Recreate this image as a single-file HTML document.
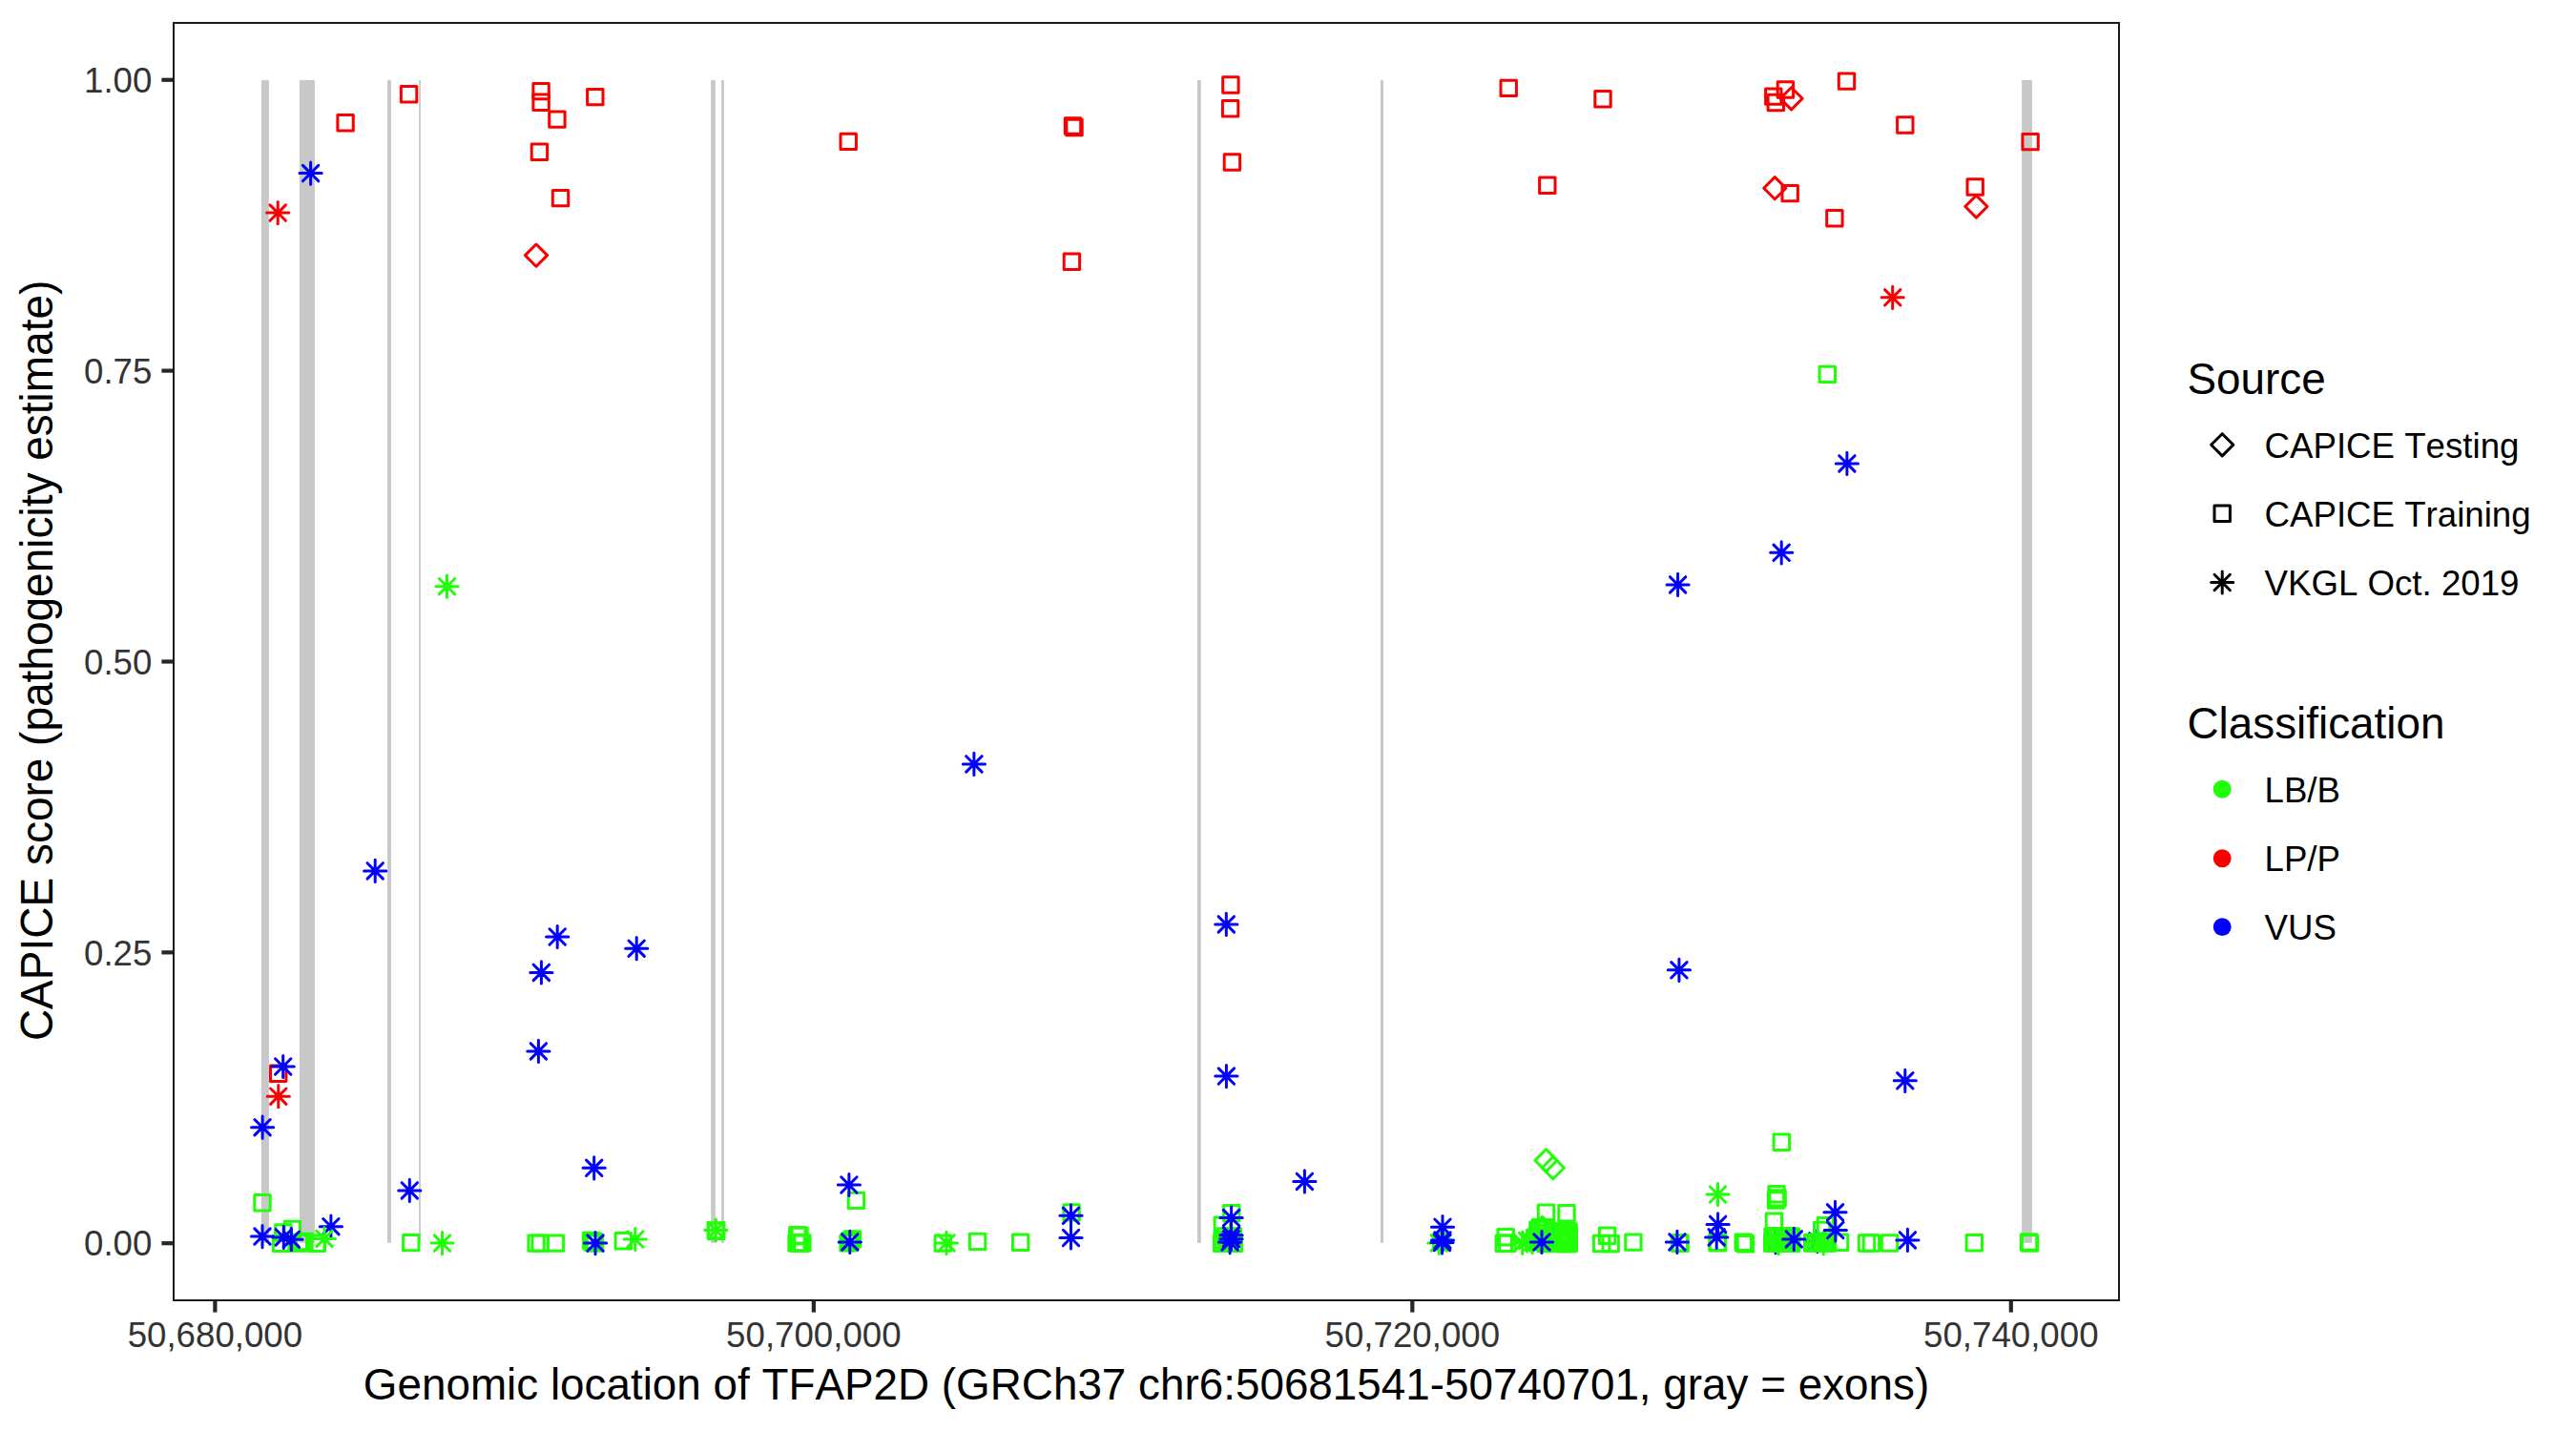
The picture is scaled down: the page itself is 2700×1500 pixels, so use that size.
<!DOCTYPE html>
<html><head><meta charset="utf-8"><title>CAPICE score plot</title>
<style>
html,body{margin:0;padding:0;background:#fff;}
svg{display:block;}
text{font-family:"Liberation Sans", Arial, Helvetica, sans-serif;font-kerning:none;font-feature-settings:"kern" 0;}
</style></head><body>
<svg width="2700" height="1500" viewBox="0 0 2700 1500">
<rect x="0" y="0" width="2700" height="1500" fill="#FFFFFF"/>
<g fill="#C8C8C8">
<rect x="274" y="83.9" width="7.9" height="1218.9"/>
<rect x="314" y="83.9" width="15.9" height="1218.9"/>
<rect x="406" y="83.9" width="3.9" height="1218.9"/>
<rect x="439.1" y="83.9" width="1.8" height="1218.9"/>
<rect x="745.2" y="83.9" width="4.6" height="1218.9"/>
<rect x="756.1" y="83.9" width="2.8" height="1218.9"/>
<rect x="1255" y="83.9" width="3.8" height="1218.9"/>
<rect x="1447" y="83.9" width="3" height="1218.9"/>
<rect x="2119.1" y="83.9" width="10.8" height="1218.9"/>
</g>
<g fill="none" stroke-width="3" stroke-linecap="round" stroke-linejoin="round">
<path d="M338.7 1277.5L355.1 1293.9M338.7 1293.9L355.1 1277.5M335.3 1285.7L358.5 1285.7M346.9 1274.1L346.9 1297.3" stroke="#0000FF"/>
<path d="M1852.8 1294L1869.2 1310.4M1852.8 1310.4L1869.2 1294M1849.4 1302.2L1872.6 1302.2M1861 1290.6L1861 1313.8" stroke="#0000FF"/>
<path d="M1896.6 1292.7L1913 1309.1M1896.6 1309.1L1913 1292.7M1893.2 1300.9L1916.4 1300.9M1904.8 1289.3L1904.8 1312.5" stroke="#0000FF"/>
<rect x="1907.1" y="384.2" width="16.4" height="16.4" stroke="#21FF08"/>
<rect x="1859.1" y="1189" width="16.4" height="16.4" stroke="#21FF08"/>
<rect x="266.8" y="1252.6" width="16.4" height="16.4" stroke="#21FF08"/>
<rect x="288.6" y="1283.8" width="16.4" height="16.4" stroke="#21FF08"/>
<rect x="298.1" y="1280.2" width="16.4" height="16.4" stroke="#21FF08"/>
<rect x="286.4" y="1295.1" width="16.4" height="16.4" stroke="#21FF08"/>
<rect x="305.1" y="1294.8" width="16.4" height="16.4" stroke="#21FF08"/>
<rect x="324.1" y="1295" width="16.4" height="16.4" stroke="#21FF08"/>
<rect x="422.6" y="1294.4" width="16.4" height="16.4" stroke="#21FF08"/>
<rect x="553.9" y="1294.9" width="16.4" height="16.4" stroke="#21FF08"/>
<rect x="557.9" y="1294.9" width="16.4" height="16.4" stroke="#21FF08"/>
<rect x="574.2" y="1294.9" width="16.4" height="16.4" stroke="#21FF08"/>
<rect x="611.3" y="1292.2" width="16.4" height="16.4" stroke="#21FF08"/>
<rect x="615.3" y="1294.9" width="16.4" height="16.4" stroke="#21FF08"/>
<rect x="645.1" y="1292.6" width="16.4" height="16.4" stroke="#21FF08"/>
<rect x="742.1" y="1281.7" width="16.4" height="16.4" stroke="#21FF08"/>
<rect x="742.6" y="1282.3" width="16.4" height="16.4" stroke="#21FF08"/>
<rect x="827.6" y="1286.5" width="16.4" height="16.4" stroke="#21FF08"/>
<rect x="826.8" y="1294.7" width="16.4" height="16.4" stroke="#21FF08"/>
<rect x="832.7" y="1294.7" width="16.4" height="16.4" stroke="#21FF08"/>
<rect x="889.2" y="1250.2" width="16.4" height="16.4" stroke="#21FF08"/>
<rect x="880.8" y="1294.7" width="16.4" height="16.4" stroke="#21FF08"/>
<rect x="885.2" y="1290.8" width="16.4" height="16.4" stroke="#21FF08"/>
<rect x="883" y="1292.5" width="16.4" height="16.4" stroke="#21FF08"/>
<rect x="980.1" y="1294.9" width="16.4" height="16.4" stroke="#21FF08"/>
<rect x="1016.4" y="1293.2" width="16.4" height="16.4" stroke="#21FF08"/>
<rect x="1061.4" y="1294.1" width="16.4" height="16.4" stroke="#21FF08"/>
<rect x="1114.9" y="1262.7" width="16.4" height="16.4" stroke="#21FF08"/>
<rect x="1282.6" y="1263.4" width="16.4" height="16.4" stroke="#21FF08"/>
<rect x="1273.1" y="1276" width="16.4" height="16.4" stroke="#21FF08"/>
<rect x="1272.5" y="1295" width="16.4" height="16.4" stroke="#21FF08"/>
<rect x="1285.1" y="1295" width="16.4" height="16.4" stroke="#21FF08"/>
<rect x="1284.2" y="1287.7" width="16.4" height="16.4" stroke="#21FF08"/>
<rect x="1273.1" y="1291.6" width="16.4" height="16.4" stroke="#21FF08"/>
<rect x="1502.5" y="1293.3" width="16.4" height="16.4" stroke="#21FF08"/>
<rect x="1570" y="1288.5" width="16.4" height="16.4" stroke="#21FF08"/>
<rect x="1568.1" y="1295.1" width="16.4" height="16.4" stroke="#21FF08"/>
<rect x="1571.6" y="1295.1" width="16.4" height="16.4" stroke="#21FF08"/>
<rect x="1612.3" y="1263" width="16.4" height="16.4" stroke="#21FF08"/>
<rect x="1633.8" y="1263.5" width="16.4" height="16.4" stroke="#21FF08"/>
<rect x="1606.3" y="1278.4" width="16.4" height="16.4" stroke="#21FF08"/>
<rect x="1610.1" y="1278.4" width="16.4" height="16.4" stroke="#21FF08"/>
<rect x="1601.8" y="1289.8" width="16.4" height="16.4" stroke="#21FF08"/>
<rect x="1611.8" y="1295.3" width="16.4" height="16.4" stroke="#21FF08"/>
<rect x="1630.5" y="1286.5" width="16.4" height="16.4" stroke="#21FF08"/>
<rect x="1636.1" y="1290.8" width="16.4" height="16.4" stroke="#21FF08"/>
<rect x="1631.8" y="1295.3" width="16.4" height="16.4" stroke="#21FF08"/>
<rect x="1635.8" y="1295.3" width="16.4" height="16.4" stroke="#21FF08"/>
<rect x="1670.4" y="1295.3" width="16.4" height="16.4" stroke="#21FF08"/>
<rect x="1680" y="1295.3" width="16.4" height="16.4" stroke="#21FF08"/>
<rect x="1676.4" y="1287" width="16.4" height="16.4" stroke="#21FF08"/>
<rect x="1703.7" y="1293.9" width="16.4" height="16.4" stroke="#21FF08"/>
<rect x="1752.2" y="1294.7" width="16.4" height="16.4" stroke="#21FF08"/>
<rect x="1752.8" y="1295.1" width="16.4" height="16.4" stroke="#21FF08"/>
<rect x="1791.8" y="1294.1" width="16.4" height="16.4" stroke="#21FF08"/>
<rect x="1792.3" y="1294.6" width="16.4" height="16.4" stroke="#21FF08"/>
<rect x="1819" y="1294.1" width="16.4" height="16.4" stroke="#21FF08"/>
<rect x="1821.2" y="1295.5" width="16.4" height="16.4" stroke="#21FF08"/>
<rect x="1853.8" y="1243.5" width="16.4" height="16.4" stroke="#21FF08"/>
<rect x="1854.9" y="1247.7" width="16.4" height="16.4" stroke="#21FF08"/>
<rect x="1853.3" y="1249.8" width="16.4" height="16.4" stroke="#21FF08"/>
<rect x="1851.2" y="1272.1" width="16.4" height="16.4" stroke="#21FF08"/>
<rect x="1849.6" y="1294.9" width="16.4" height="16.4" stroke="#21FF08"/>
<rect x="1859" y="1294.9" width="16.4" height="16.4" stroke="#21FF08"/>
<rect x="1869.5" y="1294.9" width="16.4" height="16.4" stroke="#21FF08"/>
<rect x="1852.8" y="1287.8" width="16.4" height="16.4" stroke="#21FF08"/>
<rect x="1905.2" y="1276.6" width="16.4" height="16.4" stroke="#21FF08"/>
<rect x="1901.5" y="1281.3" width="16.4" height="16.4" stroke="#21FF08"/>
<rect x="1891.5" y="1294.9" width="16.4" height="16.4" stroke="#21FF08"/>
<rect x="1907.3" y="1294.9" width="16.4" height="16.4" stroke="#21FF08"/>
<rect x="1920.3" y="1294.1" width="16.4" height="16.4" stroke="#21FF08"/>
<rect x="1948.3" y="1294.8" width="16.4" height="16.4" stroke="#21FF08"/>
<rect x="1953.2" y="1294.8" width="16.4" height="16.4" stroke="#21FF08"/>
<rect x="1972.3" y="1294.8" width="16.4" height="16.4" stroke="#21FF08"/>
<rect x="2061.1" y="1294.5" width="16.4" height="16.4" stroke="#21FF08"/>
<rect x="2118.3" y="1293.8" width="16.4" height="16.4" stroke="#21FF08"/>
<rect x="2119.3" y="1294.8" width="16.4" height="16.4" stroke="#21FF08"/>
<rect x="1627.8" y="1282.8" width="16.4" height="16.4" stroke="#21FF08"/>
<rect x="1627.8" y="1285.8" width="16.4" height="16.4" stroke="#21FF08"/>
<rect x="1627.8" y="1288.8" width="16.4" height="16.4" stroke="#21FF08"/>
<rect x="1627.8" y="1291.8" width="16.4" height="16.4" stroke="#21FF08"/>
<rect x="1627.8" y="1294.8" width="16.4" height="16.4" stroke="#21FF08"/>
<rect x="1629.8" y="1282.8" width="16.4" height="16.4" stroke="#21FF08"/>
<rect x="1629.8" y="1285.8" width="16.4" height="16.4" stroke="#21FF08"/>
<rect x="1629.8" y="1288.8" width="16.4" height="16.4" stroke="#21FF08"/>
<rect x="1629.8" y="1291.8" width="16.4" height="16.4" stroke="#21FF08"/>
<rect x="1629.8" y="1294.8" width="16.4" height="16.4" stroke="#21FF08"/>
<rect x="1631.8" y="1282.8" width="16.4" height="16.4" stroke="#21FF08"/>
<rect x="1631.8" y="1285.8" width="16.4" height="16.4" stroke="#21FF08"/>
<rect x="1631.8" y="1288.8" width="16.4" height="16.4" stroke="#21FF08"/>
<rect x="1631.8" y="1291.8" width="16.4" height="16.4" stroke="#21FF08"/>
<rect x="1631.8" y="1294.8" width="16.4" height="16.4" stroke="#21FF08"/>
<rect x="1633.8" y="1282.8" width="16.4" height="16.4" stroke="#21FF08"/>
<rect x="1633.8" y="1285.8" width="16.4" height="16.4" stroke="#21FF08"/>
<rect x="1633.8" y="1288.8" width="16.4" height="16.4" stroke="#21FF08"/>
<rect x="1633.8" y="1291.8" width="16.4" height="16.4" stroke="#21FF08"/>
<rect x="1633.8" y="1294.8" width="16.4" height="16.4" stroke="#21FF08"/>
<rect x="1635.8" y="1282.8" width="16.4" height="16.4" stroke="#21FF08"/>
<rect x="1635.8" y="1285.8" width="16.4" height="16.4" stroke="#21FF08"/>
<rect x="1635.8" y="1288.8" width="16.4" height="16.4" stroke="#21FF08"/>
<rect x="1635.8" y="1291.8" width="16.4" height="16.4" stroke="#21FF08"/>
<rect x="1635.8" y="1294.8" width="16.4" height="16.4" stroke="#21FF08"/>
<rect x="1603.8" y="1280.8" width="16.4" height="16.4" stroke="#21FF08"/>
<rect x="1603.8" y="1284.8" width="16.4" height="16.4" stroke="#21FF08"/>
<rect x="1603.8" y="1288.8" width="16.4" height="16.4" stroke="#21FF08"/>
<rect x="1603.8" y="1292.8" width="16.4" height="16.4" stroke="#21FF08"/>
<rect x="1606.8" y="1280.8" width="16.4" height="16.4" stroke="#21FF08"/>
<rect x="1606.8" y="1284.8" width="16.4" height="16.4" stroke="#21FF08"/>
<rect x="1606.8" y="1288.8" width="16.4" height="16.4" stroke="#21FF08"/>
<rect x="1606.8" y="1292.8" width="16.4" height="16.4" stroke="#21FF08"/>
<rect x="1609.8" y="1280.8" width="16.4" height="16.4" stroke="#21FF08"/>
<rect x="1609.8" y="1284.8" width="16.4" height="16.4" stroke="#21FF08"/>
<rect x="1609.8" y="1288.8" width="16.4" height="16.4" stroke="#21FF08"/>
<rect x="1609.8" y="1292.8" width="16.4" height="16.4" stroke="#21FF08"/>
<rect x="1612.8" y="1280.8" width="16.4" height="16.4" stroke="#21FF08"/>
<rect x="1612.8" y="1284.8" width="16.4" height="16.4" stroke="#21FF08"/>
<rect x="1612.8" y="1288.8" width="16.4" height="16.4" stroke="#21FF08"/>
<rect x="1612.8" y="1292.8" width="16.4" height="16.4" stroke="#21FF08"/>
<rect x="1849.8" y="1287.9" width="16.4" height="16.4" stroke="#21FF08"/>
<rect x="1849.8" y="1294.8" width="16.4" height="16.4" stroke="#21FF08"/>
<rect x="1852.8" y="1287.9" width="16.4" height="16.4" stroke="#21FF08"/>
<rect x="1852.8" y="1294.8" width="16.4" height="16.4" stroke="#21FF08"/>
<rect x="1855.8" y="1287.9" width="16.4" height="16.4" stroke="#21FF08"/>
<rect x="1855.8" y="1294.8" width="16.4" height="16.4" stroke="#21FF08"/>
<rect x="1858.8" y="1287.9" width="16.4" height="16.4" stroke="#21FF08"/>
<rect x="1858.8" y="1294.8" width="16.4" height="16.4" stroke="#21FF08"/>
<rect x="1861.8" y="1287.9" width="16.4" height="16.4" stroke="#21FF08"/>
<rect x="1861.8" y="1294.8" width="16.4" height="16.4" stroke="#21FF08"/>
<rect x="1864.8" y="1287.9" width="16.4" height="16.4" stroke="#21FF08"/>
<rect x="1864.8" y="1294.8" width="16.4" height="16.4" stroke="#21FF08"/>
<rect x="1867.8" y="1287.9" width="16.4" height="16.4" stroke="#21FF08"/>
<rect x="1867.8" y="1294.8" width="16.4" height="16.4" stroke="#21FF08"/>
<rect x="1869.1" y="1287.9" width="16.4" height="16.4" stroke="#21FF08"/>
<rect x="1869.1" y="1294.8" width="16.4" height="16.4" stroke="#21FF08"/>
<rect x="1891.8" y="1294.3" width="16.4" height="16.4" stroke="#21FF08"/>
<rect x="1894.8" y="1294.3" width="16.4" height="16.4" stroke="#21FF08"/>
<rect x="1897.8" y="1294.3" width="16.4" height="16.4" stroke="#21FF08"/>
<rect x="1900.8" y="1294.3" width="16.4" height="16.4" stroke="#21FF08"/>
<rect x="1903.8" y="1294.3" width="16.4" height="16.4" stroke="#21FF08"/>
<rect x="1905.8" y="1294.3" width="16.4" height="16.4" stroke="#21FF08"/>
<rect x="828.8" y="1294.8" width="16.4" height="16.4" stroke="#21FF08"/>
<rect x="830.8" y="1294.8" width="16.4" height="16.4" stroke="#21FF08"/>
<rect x="829.8" y="1287.3" width="16.4" height="16.4" stroke="#21FF08"/>
<rect x="1275.8" y="1287.8" width="16.4" height="16.4" stroke="#21FF08"/>
<rect x="1278.3" y="1294.8" width="16.4" height="16.4" stroke="#21FF08"/>
<rect x="1280.8" y="1294.8" width="16.4" height="16.4" stroke="#21FF08"/>
<rect x="612.8" y="1293.8" width="16.4" height="16.4" stroke="#21FF08"/>
<rect x="614" y="1293.2" width="16.4" height="16.4" stroke="#21FF08"/>
<rect x="307.8" y="1294.3" width="16.4" height="16.4" stroke="#21FF08"/>
<rect x="310.8" y="1293.3" width="16.4" height="16.4" stroke="#21FF08"/>
<path d="M1620.5 1204.8L1632.1 1216.4L1620.5 1228L1608.9 1216.4Z" stroke="#21FF08"/>
<path d="M1627.8 1212.6L1639.4 1224.2L1627.8 1235.8L1616.2 1224.2Z" stroke="#21FF08"/>
<path d="M1616.5 1275.3L1628.1 1286.9L1616.5 1298.5L1604.9 1286.9Z" stroke="#21FF08"/>
<path d="M460.3 606.5L476.7 622.9M460.3 622.9L476.7 606.5M456.9 614.7L480.1 614.7M468.5 603.1L468.5 626.3" stroke="#21FF08"/>
<path d="M1792.3 1243.8L1808.7 1260.2M1792.3 1260.2L1808.7 1243.8M1788.9 1252L1812.1 1252M1800.5 1240.4L1800.5 1263.6" stroke="#21FF08"/>
<path d="M331.8 1290.2L348.2 1306.6M331.8 1306.6L348.2 1290.2M328.4 1298.4L351.6 1298.4M340 1286.8L340 1310" stroke="#21FF08"/>
<path d="M455.3 1294.9L471.7 1311.3M455.3 1311.3L471.7 1294.9M451.9 1303.1L475.1 1303.1M463.5 1291.5L463.5 1314.7" stroke="#21FF08"/>
<path d="M657.6 1290.8L674 1307.2M657.6 1307.2L674 1290.8M654.2 1299L677.4 1299M665.8 1287.4L665.8 1310.6" stroke="#21FF08"/>
<path d="M742.1 1281.3L758.5 1297.7M742.1 1297.7L758.5 1281.3M738.7 1289.5L761.9 1289.5M750.3 1277.9L750.3 1301.1" stroke="#21FF08"/>
<path d="M983.8 1294.7L1000.2 1311.1M983.8 1311.1L1000.2 1294.7M980.4 1302.9L1003.6 1302.9M992 1291.3L992 1314.5" stroke="#21FF08"/>
<path d="M1500.1 1294.7L1516.5 1311.1M1500.1 1311.1L1516.5 1294.7M1496.7 1302.9L1519.9 1302.9M1508.3 1291.3L1508.3 1314.5" stroke="#21FF08"/>
<path d="M1587.5 1294.7L1603.9 1311.1M1587.5 1311.1L1603.9 1294.7M1584.1 1302.9L1607.3 1302.9M1595.7 1291.3L1595.7 1314.5" stroke="#21FF08"/>
<path d="M1592.4 1292.3L1608.8 1308.7M1592.4 1308.7L1608.8 1292.3M1589 1300.5L1612.2 1300.5M1600.6 1288.9L1600.6 1312.1" stroke="#21FF08"/>
<path d="M1597.9 1293.9L1614.3 1310.3M1597.9 1310.3L1614.3 1293.9M1594.5 1302.1L1617.7 1302.1M1606.1 1290.5L1606.1 1313.7" stroke="#21FF08"/>
<path d="M1855.9 1294.9L1872.3 1311.3M1855.9 1311.3L1872.3 1294.9M1852.5 1303.1L1875.7 1303.1M1864.1 1291.5L1864.1 1314.7" stroke="#21FF08"/>
<path d="M1903.1 1294.9L1919.5 1311.3M1903.1 1311.3L1919.5 1294.9M1899.7 1303.1L1922.9 1303.1M1911.3 1291.5L1911.3 1314.7" stroke="#21FF08"/>
<rect x="353.9" y="120.6" width="16.4" height="16.4" stroke="#F80000"/>
<rect x="420.4" y="90.6" width="16.4" height="16.4" stroke="#F80000"/>
<rect x="558.9" y="87.4" width="16.4" height="16.4" stroke="#F80000"/>
<rect x="558.9" y="99.1" width="16.4" height="16.4" stroke="#F80000"/>
<rect x="615.6" y="93.4" width="16.4" height="16.4" stroke="#F80000"/>
<rect x="575.7" y="116.9" width="16.4" height="16.4" stroke="#F80000"/>
<rect x="557.2" y="151.1" width="16.4" height="16.4" stroke="#F80000"/>
<rect x="579.3" y="199.4" width="16.4" height="16.4" stroke="#F80000"/>
<rect x="881" y="140.2" width="16.4" height="16.4" stroke="#F80000"/>
<rect x="1116.3" y="123.8" width="16.4" height="16.4" stroke="#F80000"/>
<rect x="1117.8" y="125.3" width="16.4" height="16.4" stroke="#F80000"/>
<rect x="1115.2" y="266.1" width="16.4" height="16.4" stroke="#F80000"/>
<rect x="1281.7" y="80.8" width="16.4" height="16.4" stroke="#F80000"/>
<rect x="1281.4" y="105.6" width="16.4" height="16.4" stroke="#F80000"/>
<rect x="1283.2" y="161.8" width="16.4" height="16.4" stroke="#F80000"/>
<rect x="1573" y="84.2" width="16.4" height="16.4" stroke="#F80000"/>
<rect x="1671.8" y="95.6" width="16.4" height="16.4" stroke="#F80000"/>
<rect x="1613.6" y="186" width="16.4" height="16.4" stroke="#F80000"/>
<rect x="1850.6" y="92.9" width="16.4" height="16.4" stroke="#F80000"/>
<rect x="1853.1" y="99.3" width="16.4" height="16.4" stroke="#F80000"/>
<rect x="1863.2" y="85.8" width="16.4" height="16.4" stroke="#F80000"/>
<rect x="1927.3" y="76.9" width="16.4" height="16.4" stroke="#F80000"/>
<rect x="1988.6" y="122.8" width="16.4" height="16.4" stroke="#F80000"/>
<rect x="2119.9" y="140.4" width="16.4" height="16.4" stroke="#F80000"/>
<rect x="2062" y="187.8" width="16.4" height="16.4" stroke="#F80000"/>
<rect x="1914.7" y="220.5" width="16.4" height="16.4" stroke="#F80000"/>
<rect x="1868" y="194.4" width="16.4" height="16.4" stroke="#F80000"/>
<rect x="283.5" y="1117" width="16.4" height="16.4" stroke="#F80000"/>
<path d="M562 256L573.6 267.6L562 279.2L550.4 267.6Z" stroke="#F80000"/>
<path d="M1877.6 91.7L1889.2 103.3L1877.6 114.9L1866 103.3Z" stroke="#F80000"/>
<path d="M2071.4 204.9L2083 216.5L2071.4 228.1L2059.8 216.5Z" stroke="#F80000"/>
<path d="M1860.3 185.6L1871.9 197.2L1860.3 208.8L1848.7 197.2Z" stroke="#F80000"/>
<path d="M283 214.9L299.4 231.3M283 231.3L299.4 214.9M279.6 223.1L302.8 223.1M291.2 211.5L291.2 234.7" stroke="#F80000"/>
<path d="M1975.5 303.6L1991.9 320M1975.5 320L1991.9 303.6M1972.1 311.8L1995.3 311.8M1983.7 300.2L1983.7 323.4" stroke="#F80000"/>
<path d="M283.6 1141L300 1157.4M283.6 1157.4L300 1141M280.2 1149.2L303.4 1149.2M291.8 1137.6L291.8 1160.8" stroke="#F80000"/>
<path d="M317.4 173.4L333.8 189.8M317.4 189.8L333.8 173.4M314 181.6L337.2 181.6M325.6 170L325.6 193.2" stroke="#0000FF"/>
<path d="M385 904.7L401.4 921.1M385 921.1L401.4 904.7M381.6 912.9L404.8 912.9M393.2 901.3L393.2 924.5" stroke="#0000FF"/>
<path d="M576 973.8L592.4 990.2M576 990.2L592.4 973.8M572.6 982L595.8 982M584.2 970.4L584.2 993.6" stroke="#0000FF"/>
<path d="M659 986L675.4 1002.4M659 1002.4L675.4 986M655.6 994.2L678.8 994.2M667.2 982.6L667.2 1005.8" stroke="#0000FF"/>
<path d="M559.2 1011.2L575.6 1027.6M559.2 1027.6L575.6 1011.2M555.8 1019.4L579 1019.4M567.4 1007.8L567.4 1031" stroke="#0000FF"/>
<path d="M556.2 1093.7L572.6 1110.1M556.2 1110.1L572.6 1093.7M552.8 1101.9L576 1101.9M564.4 1090.3L564.4 1113.5" stroke="#0000FF"/>
<path d="M288.5 1109.8L304.9 1126.2M288.5 1126.2L304.9 1109.8M285.1 1118L308.3 1118M296.7 1106.4L296.7 1129.6" stroke="#0000FF"/>
<path d="M266.9 1173.5L283.3 1189.9M266.9 1189.9L283.3 1173.5M263.5 1181.7L286.7 1181.7M275.1 1170.1L275.1 1193.3" stroke="#0000FF"/>
<path d="M1012.7 792.7L1029.1 809.1M1012.7 809.1L1029.1 792.7M1009.3 800.9L1032.5 800.9M1020.9 789.3L1020.9 812.5" stroke="#0000FF"/>
<path d="M1277.1 960.7L1293.5 977.1M1277.1 977.1L1293.5 960.7M1273.7 968.9L1296.9 968.9M1285.3 957.3L1285.3 980.5" stroke="#0000FF"/>
<path d="M1927.7 477.7L1944.1 494.1M1927.7 494.1L1944.1 477.7M1924.3 485.9L1947.5 485.9M1935.9 474.3L1935.9 497.5" stroke="#0000FF"/>
<path d="M1859 571.1L1875.4 587.5M1859 587.5L1875.4 571.1M1855.6 579.3L1878.8 579.3M1867.2 567.7L1867.2 590.9" stroke="#0000FF"/>
<path d="M1750.4 604.7L1766.8 621.1M1750.4 621.1L1766.8 604.7M1747 612.9L1770.2 612.9M1758.6 601.3L1758.6 624.5" stroke="#0000FF"/>
<path d="M1751.7 1008.6L1768.1 1025M1751.7 1025L1768.1 1008.6M1748.3 1016.8L1771.5 1016.8M1759.9 1005.2L1759.9 1028.4" stroke="#0000FF"/>
<path d="M1988.6 1124.6L2005 1141M1988.6 1141L2005 1124.6M1985.2 1132.8L2008.4 1132.8M1996.8 1121.2L1996.8 1144.4" stroke="#0000FF"/>
<path d="M1277.2 1119.9L1293.6 1136.3M1277.2 1136.3L1293.6 1119.9M1273.8 1128.1L1297 1128.1M1285.4 1116.5L1285.4 1139.7" stroke="#0000FF"/>
<path d="M1359.2 1230.2L1375.6 1246.6M1359.2 1246.6L1375.6 1230.2M1355.8 1238.4L1379 1238.4M1367.4 1226.8L1367.4 1250" stroke="#0000FF"/>
<path d="M266.8 1287.9L283.2 1304.3M266.8 1304.3L283.2 1287.9M263.4 1296.1L286.6 1296.1M275 1284.5L275 1307.7" stroke="#0000FF"/>
<path d="M289.1 1288.7L305.5 1305.1M289.1 1305.1L305.5 1288.7M285.7 1296.9L308.9 1296.9M297.3 1285.3L297.3 1308.5" stroke="#0000FF"/>
<path d="M297.2 1291L313.6 1307.4M297.2 1307.4L313.6 1291M293.8 1299.2L317 1299.2M305.4 1287.6L305.4 1310.8" stroke="#0000FF"/>
<path d="M421.1 1239.7L437.5 1256.1M421.1 1256.1L437.5 1239.7M417.7 1247.9L440.9 1247.9M429.3 1236.3L429.3 1259.5" stroke="#0000FF"/>
<path d="M614.5 1216.1L630.9 1232.5M614.5 1232.5L630.9 1216.1M611.1 1224.3L634.3 1224.3M622.7 1212.7L622.7 1235.9" stroke="#0000FF"/>
<path d="M615.8 1294.9L632.2 1311.3M615.8 1311.3L632.2 1294.9M612.4 1303.1L635.6 1303.1M624 1291.5L624 1314.7" stroke="#0000FF"/>
<path d="M881.7 1233.8L898.1 1250.2M881.7 1250.2L898.1 1233.8M878.3 1242L901.5 1242M889.9 1230.4L889.9 1253.6" stroke="#0000FF"/>
<path d="M882.6 1293.7L899 1310.1M882.6 1310.1L899 1293.7M879.2 1301.9L902.4 1301.9M890.8 1290.3L890.8 1313.5" stroke="#0000FF"/>
<path d="M1114.3 1266.1L1130.7 1282.5M1114.3 1282.5L1130.7 1266.1M1110.9 1274.3L1134.1 1274.3M1122.5 1262.7L1122.5 1285.9" stroke="#0000FF"/>
<path d="M1114.3 1289.3L1130.7 1305.7M1114.3 1305.7L1130.7 1289.3M1110.9 1297.5L1134.1 1297.5M1122.5 1285.9L1122.5 1309.1" stroke="#0000FF"/>
<path d="M1282.4 1268.4L1298.8 1284.8M1282.4 1284.8L1298.8 1268.4M1279 1276.6L1302.2 1276.6M1290.6 1265L1290.6 1288.2" stroke="#0000FF"/>
<path d="M1282.3 1286.6L1298.7 1303M1282.3 1303L1298.7 1286.6M1278.9 1294.8L1302.1 1294.8M1290.5 1283.2L1290.5 1306.4" stroke="#0000FF"/>
<path d="M1282.3 1290.5L1298.7 1306.9M1282.3 1306.9L1298.7 1290.5M1278.9 1298.7L1302.1 1298.7M1290.5 1287.1L1290.5 1310.3" stroke="#0000FF"/>
<path d="M1280.9 1293.9L1297.3 1310.3M1280.9 1310.3L1297.3 1293.9M1277.5 1302.1L1300.7 1302.1M1289.1 1290.5L1289.1 1313.7" stroke="#0000FF"/>
<path d="M1503.8 1278L1520.2 1294.4M1503.8 1294.4L1520.2 1278M1500.4 1286.2L1523.6 1286.2M1512 1274.6L1512 1297.8" stroke="#0000FF"/>
<path d="M1503.8 1291.8L1520.2 1308.2M1503.8 1308.2L1520.2 1291.8M1500.4 1300L1523.6 1300M1512 1288.4L1512 1311.6" stroke="#0000FF"/>
<path d="M1503.3 1294.3L1519.7 1310.7M1503.3 1310.7L1519.7 1294.3M1499.9 1302.5L1523.1 1302.5M1511.5 1290.9L1511.5 1314.1" stroke="#0000FF"/>
<path d="M1607.8 1293.8L1624.2 1310.2M1607.8 1310.2L1624.2 1293.8M1604.4 1302L1627.6 1302M1616 1290.4L1616 1313.6" stroke="#0000FF"/>
<path d="M1749.7 1293.7L1766.1 1310.1M1749.7 1310.1L1766.1 1293.7M1746.3 1301.9L1769.5 1301.9M1757.9 1290.3L1757.9 1313.5" stroke="#0000FF"/>
<path d="M1792.4 1275.2L1808.8 1291.6M1792.4 1291.6L1808.8 1275.2M1789 1283.4L1812.2 1283.4M1800.6 1271.8L1800.6 1295" stroke="#0000FF"/>
<path d="M1791 1288.7L1807.4 1305.1M1791 1305.1L1807.4 1288.7M1787.6 1296.9L1810.8 1296.9M1799.2 1285.3L1799.2 1308.5" stroke="#0000FF"/>
<path d="M1872.1 1290.7L1888.5 1307.1M1872.1 1307.1L1888.5 1290.7M1868.7 1298.9L1891.9 1298.9M1880.3 1287.3L1880.3 1310.5" stroke="#0000FF"/>
<path d="M1915.3 1262.6L1931.7 1279M1915.3 1279L1931.7 1262.6M1911.9 1270.8L1935.1 1270.8M1923.5 1259.2L1923.5 1282.4" stroke="#0000FF"/>
<path d="M1915.6 1281.3L1932 1297.7M1915.6 1297.7L1932 1281.3M1912.2 1289.5L1935.4 1289.5M1923.8 1277.9L1923.8 1301.1" stroke="#0000FF"/>
<path d="M1991.2 1291.7L2007.6 1308.1M1991.2 1308.1L2007.6 1291.7M1987.8 1299.9L2011 1299.9M1999.4 1288.3L1999.4 1311.5" stroke="#0000FF"/>
</g>
<rect x="182" y="24" width="2039" height="1339" fill="none" stroke="#1A1A1A" stroke-width="2"/>
<g stroke="#262626" stroke-width="4.2">
<line x1="169.4" y1="1303.2" x2="181" y2="1303.2"/>
<line x1="169.4" y1="998.34" x2="181" y2="998.34"/>
<line x1="169.4" y1="693.48" x2="181" y2="693.48"/>
<line x1="169.4" y1="388.61" x2="181" y2="388.61"/>
<line x1="169.4" y1="83.75" x2="181" y2="83.75"/>
<line x1="225.4" y1="1364" x2="225.4" y2="1375.6"/>
<line x1="852.87" y1="1364" x2="852.87" y2="1375.6"/>
<line x1="1480.33" y1="1364" x2="1480.33" y2="1375.6"/>
<line x1="2107.8" y1="1364" x2="2107.8" y2="1375.6"/>
</g>
<text transform="translate(159.4 1316.4) scale(1 1.025)" font-size="36.67px" fill="#333333" text-anchor="end">0.00</text>
<text transform="translate(159.4 1011.54) scale(1 1.025)" font-size="36.67px" fill="#333333" text-anchor="end">0.25</text>
<text transform="translate(159.4 706.68) scale(1 1.025)" font-size="36.67px" fill="#333333" text-anchor="end">0.50</text>
<text transform="translate(159.4 401.81) scale(1 1.025)" font-size="36.67px" fill="#333333" text-anchor="end">0.75</text>
<text transform="translate(159.4 96.95) scale(1 1.025)" font-size="36.67px" fill="#333333" text-anchor="end">1.00</text>
<text transform="translate(225.4 1412.2) scale(1 1.025)" font-size="36.67px" fill="#333333" text-anchor="middle">50,680,000</text>
<text transform="translate(852.87 1412.2) scale(1 1.025)" font-size="36.67px" fill="#333333" text-anchor="middle">50,700,000</text>
<text transform="translate(1480.33 1412.2) scale(1 1.025)" font-size="36.67px" fill="#333333" text-anchor="middle">50,720,000</text>
<text transform="translate(2107.8 1412.2) scale(1 1.025)" font-size="36.67px" fill="#333333" text-anchor="middle">50,740,000</text>
<text transform="translate(1201.5 1467.3) scale(1 1.025)" font-size="45.83px" fill="#000" text-anchor="middle">Genomic location of TFAP2D (GRCh37 chr6:50681541-50740701, gray = exons)</text>
<text transform="translate(55 692.4) rotate(-90) scale(1 1.025)" font-size="46px" fill="#000" text-anchor="middle">CAPICE score (pathogenicity estimate)</text>
<text transform="translate(2292.5 413) scale(1 1.025)" font-size="45.83px" fill="#000">Source</text>
<text transform="translate(2373.5 480.3) scale(1 1.025)" font-size="36.67px" fill="#000">CAPICE Testing</text>
<text transform="translate(2373.5 551.8) scale(1 1.025)" font-size="36.67px" fill="#000">CAPICE Training</text>
<text transform="translate(2373.5 623.9) scale(1 1.025)" font-size="36.67px" fill="#000">VKGL Oct. 2019</text>
<text transform="translate(2292.5 774.1) scale(1 1.025)" font-size="45.83px" fill="#000">Classification</text>
<text transform="translate(2373.5 841.2) scale(1 1.025)" font-size="36.67px" fill="#000">LB/B</text>
<text transform="translate(2373.5 912.9) scale(1 1.025)" font-size="36.67px" fill="#000">LP/P</text>
<text transform="translate(2373.5 984.6) scale(1 1.025)" font-size="36.67px" fill="#000">VUS</text>
<g fill="none" stroke-width="3" stroke-linecap="round" stroke-linejoin="round">
<path d="M2329.2 454.7L2340.8 466.3L2329.2 477.9L2317.6 466.3Z" stroke="#000"/>
<rect x="2321" y="530" width="16.4" height="16.4" stroke="#000"/>
<path d="M2321 602.3L2337.4 618.7M2321 618.7L2337.4 602.3M2317.6 610.5L2340.8 610.5M2329.2 598.9L2329.2 622.1" stroke="#000"/>
</g>
<circle cx="2329.2" cy="827.3" r="9.45" fill="#21FF08"/>
<circle cx="2329.2" cy="899.7" r="9.45" fill="#F80000"/>
<circle cx="2329.2" cy="971.6" r="9.45" fill="#0000FF"/>
</svg>
</body></html>
